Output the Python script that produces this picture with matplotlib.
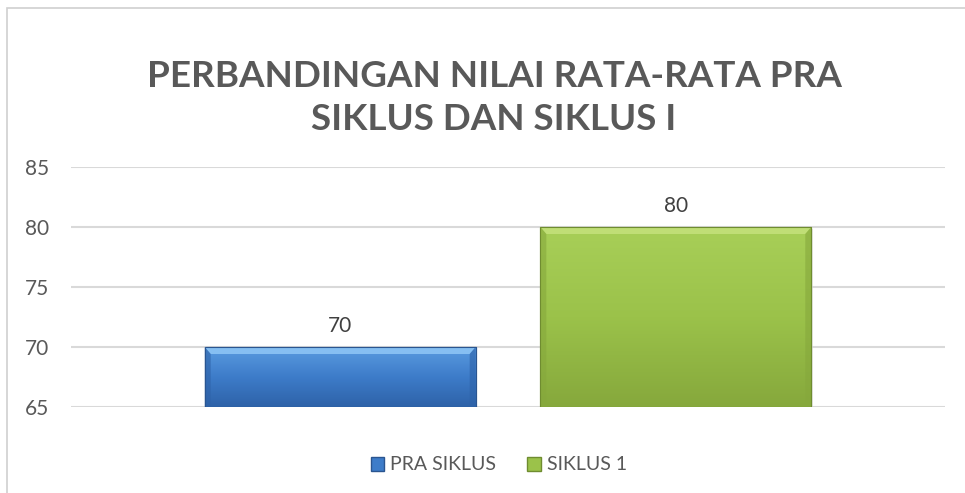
import matplotlib
matplotlib.use("Agg")
import matplotlib.pyplot as plt
import numpy as np
from matplotlib.patches import Rectangle, Polygon
from matplotlib.colors import LinearSegmentedColormap

plt.rcParams['font.family'] = ['Lato', 'DejaVu Sans']

title = "PERBANDINGAN NILAI RATA-RATA PRA\nSIKLUS DAN SIKLUS I"
series = ["PRA SIKLUS", "SIKLUS 1"]
values = [70, 80]
y_ticks = [65, 70, 75, 80, 85]
y_min, y_max = 65, 85

colors_top = ["#5a9be0", "#a8cf58"]
colors_mid = ["#3d7cc9", "#9bc24a"]
colors_bot = ["#2e62a8", "#86a83c"]
edge_cols = ["#2a5590", "#6f8c30"]
light_cols = ["#8cc4f5", "#c3e07a"]

fig = plt.figure(figsize=(9.65, 4.93), dpi=100)
fig.patch.set_facecolor("white")
# chart border
fig.add_artist(Rectangle((7/965, -0.2), 1.2, 1 - 8/493 + 0.2, transform=fig.transFigure,
                         fill=False, edgecolor="#d0d0d0", linewidth=1.2))

ax = fig.add_axes([71/965, 1 - 407/493, (945 - 71)/965, (407 - 167)/493])
ax.set_xlim(0, 1)
ax.set_ylim(y_min, y_max)
ax.set_yticks(y_ticks)
ax.set_yticklabels([str(t) for t in y_ticks], fontsize=15, color="#595959")
ax.tick_params(axis='y', length=0, pad=16)
ax.set_xticks([])
for s in ax.spines.values():
    s.set_visible(False)
ax.grid(axis='y', color="#d9d9d9", linewidth=1.5)
ax.set_axisbelow(True)

centers = [0.308, 0.692]
width = 0.31
px_x = 1 / 874 * 6       # bevel size in x data units (~6 px)
bev_y = 20 / 240 * 7     # ~7 px in y data units

for i, (c, v) in enumerate(zip(centers, values)):
    x0 = c - width / 2
    # shadow
    ax.add_patch(Rectangle((x0 + 0.002, y_min), width, v - y_min - 0.15, facecolor="#d8d8d8",
                           edgecolor="none", zorder=2, alpha=0.6))
    b = ax.bar(c, v - y_min, bottom=y_min, width=width, color=colors_mid[i],
               edgecolor=edge_cols[i], linewidth=0.8, zorder=3, label=series[i])
    cmap = LinearSegmentedColormap.from_list("g%d" % i, [colors_bot[i], colors_mid[i], colors_top[i]])
    grad = np.linspace(0, 1, 256).reshape(-1, 1)
    im = ax.imshow(grad, extent=(x0, x0 + width, y_min, v), origin='lower', aspect='auto',
                   cmap=cmap, zorder=4)
    im.set_clip_path(b.patches[0])
    # top bevel (light)
    ax.add_patch(Polygon([(x0, v), (x0 + width, v), (x0 + width - px_x, v - bev_y),
                          (x0 + px_x, v - bev_y)], closed=True, facecolor=light_cols[i],
                         edgecolor="none", alpha=0.9, zorder=5))
    # side bevels (darker)
    ax.add_patch(Polygon([(x0, v), (x0 + px_x, v - bev_y), (x0 + px_x, y_min + bev_y * 0.3),
                          (x0, y_min)], closed=True, facecolor=colors_bot[i],
                         edgecolor="none", alpha=0.6, zorder=5))
    ax.add_patch(Polygon([(x0 + width, v), (x0 + width - px_x, v - bev_y),
                          (x0 + width - px_x, y_min + bev_y * 0.3), (x0 + width, y_min)],
                         closed=True, facecolor=colors_bot[i], edgecolor="none", alpha=0.6, zorder=5))
    ax.add_patch(Rectangle((x0, y_min), width, v - y_min, fill=False,
                           edgecolor=edge_cols[i], linewidth=0.8, zorder=6))
    ax.annotate(str(v), (c, v), xytext=(0, 8), textcoords="offset points",
                ha="center", va="bottom", fontsize=15, color="#404040", zorder=7)

fig.text(0.512, 1 - 98/493, title, ha="center", va="center", fontsize=26.5, fontweight="bold",
         color="#595959", linespacing=1.35)

# legend
leg_handles = [Rectangle((0, 0), 1, 1, facecolor=colors_mid[i], edgecolor=edge_cols[i])
               for i in range(len(series))]
fig.legend(leg_handles, series, loc="center", bbox_to_anchor=(0.517, 1 - 465/493), ncol=2,
           frameon=False, fontsize=14, labelcolor="#595959", handlelength=0.7, handleheight=0.7,
           handletextpad=0.3, columnspacing=1.6)

fig.savefig("out.png", dpi=100)
